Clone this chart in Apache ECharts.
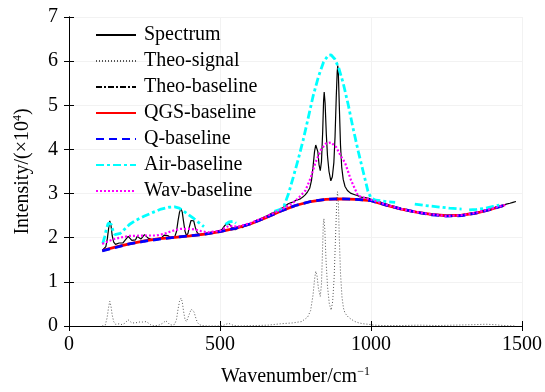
<!DOCTYPE html>
<html>
<head>
<meta charset="utf-8">
<script src="https://cdn.jsdelivr.net/npm/echarts@6/dist/echarts.min.js"></script>
<style>html,body{margin:0;padding:0;background:#fff}#c{width:545px;height:392px}</style>
</head>
<body>
<div id="c"></div>
<script>
// ---- data ----
const xTicks = [0, 500, 1000, 1500];
const yTicks = [0, 1, 2, 3, 4, 5, 6, 7];

const specX = [110,116,122,127,131,135,139,143,148,154,160,166,172,178,184,190,196,202,208,214,220,226,232,238,244,250,256,262,268,276,284,292,300,308,315,321,327,334,342,350,356,361,366,371,375,379,384,389,394,399,404,409,413,418,424,431,440,450,460,470,480,490,500,508,515,522,529,536,543,550,558,566,574,582,590,598,606,614,622,630,638,646,654,662,670,678,686,694,702,710,718,726,734,742,750,758,766,774,782,790,797,803,808,813,817,820,824,828,832,836,840,843,845,848,852,856,861,867,872,877,881,885,888,890,892,895,899,903,908,914,922,932,944,956,968,980,992,1004,1016,1028,1040,1052,1064,1076,1088,1100,1112,1124,1136,1148,1160,1172,1184,1196,1208,1220,1232,1244,1256,1268,1280,1292,1304,1316,1328,1340,1352,1364,1376,1388,1400,1412,1424,1436,1448,1460,1470,1480];
const specY = [1.71,1.73,1.80,1.98,2.20,2.38,2.28,2.05,1.90,1.85,1.84,1.88,1.90,1.88,1.93,1.98,2.03,2.00,1.94,1.91,1.95,2.03,2.00,1.97,2.02,2.07,2.04,1.99,1.96,1.95,1.97,1.96,1.98,2.01,2.06,2.10,2.05,2.01,1.99,2.02,2.14,2.38,2.58,2.66,2.58,2.38,2.15,2.05,2.10,2.26,2.39,2.43,2.38,2.24,2.12,2.07,2.08,2.09,2.10,2.12,2.12,2.15,2.16,2.20,2.27,2.31,2.32,2.27,2.20,2.18,2.22,2.24,2.23,2.27,2.28,2.31,2.33,2.36,2.40,2.41,2.44,2.47,2.49,2.52,2.55,2.57,2.61,2.62,2.66,2.69,2.73,2.77,2.79,2.81,2.84,2.86,2.88,2.92,2.97,3.04,3.12,3.30,3.60,3.95,4.10,4.13,3.95,3.65,3.52,3.72,4.40,5.10,5.30,5.05,4.35,3.85,3.50,3.29,3.38,3.70,4.30,5.20,5.75,5.90,5.70,5.00,4.10,3.60,3.32,3.16,3.07,3.01,2.98,2.95,2.92,2.91,2.89,2.86,2.85,2.82,2.78,2.76,2.73,2.71,2.68,2.66,2.65,2.62,2.60,2.59,2.56,2.55,2.54,2.52,2.51,2.51,2.50,2.49,2.50,2.49,2.50,2.50,2.52,2.53,2.55,2.56,2.58,2.60,2.62,2.64,2.66,2.69,2.71,2.73,2.76,2.78,2.80,2.82];

const sigX = [110,120,126,131,135,139,143,148,154,160,168,176,184,190,196,202,208,214,220,226,232,238,244,250,256,262,270,280,292,302,312,320,327,334,342,350,356,361,366,371,375,379,384,389,394,400,405,410,414,419,425,432,440,460,490,510,520,528,536,545,570,620,660,700,740,770,790,800,808,813,817,821,826,832,836,839,842,844,847,851,856,862,868,873,878,882,886,889,892,895,899,904,909,914,925,935,947,960,975,990,1000,1010,1040,1100,1160,1220,1280,1340,1380,1410,1440,1480];
const sigY = [0.00,0.02,0.18,0.42,0.56,0.45,0.25,0.10,0.04,0.02,0.05,0.03,0.06,0.10,0.14,0.12,0.07,0.04,0.07,0.11,0.09,0.06,0.09,0.12,0.10,0.06,0.03,0.01,0.01,0.03,0.07,0.12,0.08,0.03,0.02,0.04,0.15,0.38,0.56,0.63,0.55,0.35,0.15,0.10,0.14,0.30,0.38,0.39,0.32,0.20,0.08,0.03,0.01,0.00,0.00,0.01,0.04,0.06,0.04,0.01,0.00,0.01,0.02,0.05,0.07,0.10,0.20,0.35,0.70,1.05,1.24,1.15,0.85,0.67,0.95,1.60,2.30,2.43,2.20,1.50,0.90,0.50,0.36,0.55,1.10,1.90,2.70,3.04,2.80,2.00,1.20,0.65,0.40,0.29,0.20,0.15,0.10,0.07,0.05,0.04,0.03,0.02,0.01,0.01,0.02,0.01,0.02,0.03,0.04,0.03,0.01,0.00];

const baseX = [110,150,200,250,300,350,400,450,500,550,600,650,700,750,800,850,900,950,1000,1050,1100,1150,1200,1250,1300,1350,1400,1440];
const theoBaseY = [1.70,1.78,1.87,1.93,1.98,2.01,2.04,2.08,2.14,2.21,2.31,2.45,2.60,2.73,2.82,2.87,2.88,2.87,2.84,2.74,2.65,2.58,2.53,2.49,2.50,2.56,2.65,2.73];
const qgsBaseY  = [1.71,1.78,1.86,1.93,1.98,2.01,2.04,2.08,2.14,2.21,2.31,2.45,2.60,2.73,2.82,2.87,2.88,2.87,2.84,2.74,2.65,2.58,2.53,2.50,2.51,2.56,2.65,2.73];
const qBaseY    = [1.70,1.77,1.86,1.92,1.97,2.01,2.04,2.08,2.14,2.21,2.31,2.45,2.60,2.73,2.82,2.87,2.88,2.87,2.84,2.74,2.65,2.58,2.52,2.49,2.50,2.56,2.65,2.73];

const airX = [112,118,124,130,135,140,146,152,158,170,185,200,220,250,280,305,330,350,365,380,400,414,430,447,480,518,530,545,553,600,680,700,712,727,743,760,775,790,808,826,843,858,868,880,893,908,925,940,958,974,990,1000,1015,1040,1060,1080,1110,1145,1180,1220,1260,1300,1312,1325,1350,1380,1405,1425];
const airY = [1.87,2.02,2.20,2.33,2.37,2.30,2.15,2.07,2.04,2.10,2.20,2.30,2.39,2.49,2.58,2.65,2.69,2.70,2.67,2.60,2.50,2.43,2.34,2.25,null,2.30,2.36,2.37,2.33,null,2.60,2.64,2.72,3.00,3.38,3.80,4.20,4.65,5.20,5.65,5.98,6.13,6.14,6.05,5.85,5.50,5.00,4.50,3.95,3.50,3.05,2.90,2.85,2.83,2.81,2.80,null,2.76,2.73,2.70,2.67,2.65,null,2.63,2.64,2.67,2.71,2.74];

const wavX = [110,130,150,175,200,250,290,316,332,350,370,403,420,437,460,500,530,560,600,650,700,740,760,783,800,816,835,850,868,885,900,914,934,957,980,1000,1050,1100,1150,1200,1250,1300,1350,1400,1450];
const wavY = [1.86,1.92,1.97,2.01,2.04,2.05,2.05,2.09,2.13,2.17,2.20,2.20,2.18,2.15,2.12,2.16,2.27,2.25,2.33,2.47,2.63,2.78,2.90,3.07,3.35,3.70,4.00,4.13,4.16,4.05,3.85,3.70,3.30,2.95,2.90,2.86,2.75,2.65,2.58,2.53,2.49,2.51,2.57,2.66,2.75];

function zip(xs, ys) { return xs.map((x, i) => ys[i] === null ? [x, '-'] : [x, ys[i]]); }

const FONT = "'Liberation Serif'";

function lineSeries(name, data, color, width, type, z) {
  return {
    name: name, type: 'line', data: data, symbol: 'none', showSymbol: false,
    connectNulls: false, smooth: false, z: z, animation: false,
    lineStyle: { color: color, width: width, type: type },
    itemStyle: { color: color }
  };
}

const chart = echarts.init(document.getElementById('c'), null, { renderer: 'canvas' });
const axisCommon = {
  type: 'value',
  axisLine: { show: true, lineStyle: { color: '#000', width: 1 } },
  axisTick: { show: true, inside: true, length: 5, lineStyle: { color: '#000' } },
  splitLine: { show: false },
};
const supRich = { sup: { fontFamily: FONT, fontSize: 12, color: '#000', verticalAlign: 'top', padding: [0, 0, 10, 0] } };
chart.setOption({
  animation: false,
  backgroundColor: '#fff',
  textStyle: { fontFamily: FONT },
  grid: { left: 69, right: 20, top: 17, bottom: 64, containLabel: false },
  legend: {
    orient: 'vertical', left: 95, top: 25, padding: 0, itemWidth: 40, itemHeight: 14, itemGap: 6,
    itemStyle: { opacity: 0 },
    textStyle: { fontFamily: FONT, fontSize: 20, color: '#000', lineHeight: 20, padding: [0, 0, 0, 3] },
    data: ['Spectrum', 'Theo-signal', 'Theo-baseline', 'QGS-baseline', 'Q-baseline', 'Air-baseline', 'Wav-baseline']
  },
  xAxis: [
    Object.assign({}, axisCommon, {
      min: xTicks[0], max: xTicks[xTicks.length - 1], interval: 500, position: 'bottom',
      splitLine: { show: true, lineStyle: { color: '#f2f2f2', width: 1 } },
      axisLabel: { fontFamily: FONT, fontSize: 20, color: '#000', margin: 9, formatter: v => String(v) },
      name: 'Wavenumber/cm{sup|\u22121}', nameLocation: 'middle', nameGap: 40,
      nameTextStyle: { fontFamily: FONT, fontSize: 20, color: '#000', rich: supRich }
    }),
    Object.assign({}, axisCommon, {
      min: xTicks[0], max: xTicks[xTicks.length - 1], interval: 500, position: 'top',
      axisLabel: { show: false }
    })
  ],
  yAxis: [
    Object.assign({}, axisCommon, {
      min: yTicks[0], max: yTicks[yTicks.length - 1], interval: 1, position: 'left',
      splitLine: { show: true, lineStyle: { color: '#f2f2f2', width: 1 } },
      axisLabel: { fontFamily: FONT, fontSize: 20, color: '#000', margin: 11, formatter: v => String(v) },
      name: 'Intensity/(\u00d710{sup|4})', nameLocation: 'middle', nameGap: 35,
      nameTextStyle: { fontFamily: FONT, fontSize: 20, color: '#000', rich: supRich }
    }),
    Object.assign({}, axisCommon, {
      min: yTicks[0], max: yTicks[yTicks.length - 1], interval: 1, position: 'right',
      axisLabel: { show: false }
    })
  ],
  series: [
    lineSeries('Spectrum', zip(specX, specY), '#000', 1.2, 'solid', 3),
    lineSeries('Theo-signal', zip(sigX, sigY), '#555', 1, [1, 2], 2),
    lineSeries('Theo-baseline', zip(baseX, theoBaseY), '#000', 1, [6, 2, 2, 2], 4),
    lineSeries('QGS-baseline', zip(baseX, qgsBaseY), '#ff0000', 2.8, 'solid', 5),
    lineSeries('Q-baseline', zip(baseX, qBaseY), '#0000ff', 2.8, [8, 5], 6),
    lineSeries('Air-baseline', zip(airX, airY), '#00ffff', 2.8, [8, 3, 3, 3], 7),
    lineSeries('Wav-baseline', zip(wavX, wavY), '#ff00ff', 2.2, [2, 2], 8)
  ]
});
</script>
</body>
</html>
